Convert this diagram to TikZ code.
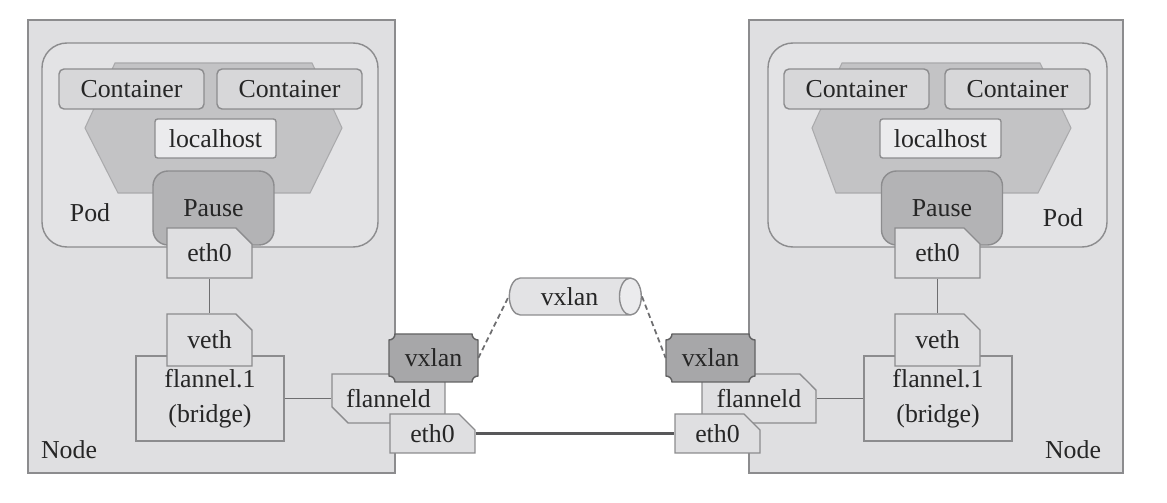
\documentclass[tikz,border=0pt]{standalone}
\usepackage{fontspec}
\setmainfont{Liberation Serif}
\usetikzlibrary{shapes.misc,shapes.geometric}

\definecolor{nodebg}{HTML}{DFDFE1}
\definecolor{podbg}{HTML}{E3E3E5}
\definecolor{hexfill}{HTML}{C3C3C5}
\definecolor{ctrfill}{HTML}{D7D7D9}
\definecolor{hostfill}{HTML}{EBEBED}
\definecolor{pausefill}{HTML}{B3B3B5}
\definecolor{vxfill}{HTML}{A7A7A9}
\definecolor{edge}{HTML}{8C8C8E}
\definecolor{wirecol}{HTML}{6E6E70}
\definecolor{ink}{HTML}{262626}

\begin{document}
\begin{tikzpicture}[
  x=0.02cm, y=-0.02cm,
  font=\fontsize{14.7pt}{17pt}\selectfont, text=ink,
  hostarea/.style={draw=edge, fill=nodebg, line width=0.8pt},
  podarea/.style={draw=edge, fill=podbg, line width=0.8pt, rounded corners=0.5cm},
  netns/.style={draw=edge!45!hexfill, fill=hexfill, line width=0.6pt},
  ctr/.style={draw=edge, fill=ctrfill, line width=0.8pt, rounded corners=0.1cm,
    minimum width=2.9cm, minimum height=0.8cm, inner sep=0pt},
  lhost/.style={draw=edge, fill=hostfill, line width=0.8pt, rounded corners=1.5pt,
    minimum width=2.42cm, minimum height=0.78cm, inner sep=0pt},
  pausebox/.style={draw=edge, fill=pausefill, line width=0.8pt, rounded corners=0.3cm,
    minimum width=2.42cm, minimum height=1.48cm, inner sep=0pt},
  iface/.style={chamfered rectangle, chamfered rectangle corners=north east,
    chamfered rectangle xsep=0.16cm, chamfered rectangle ysep=0.16cm,
    draw=edge, fill=nodebg, line width=0.8pt, minimum width=1.7cm, inner sep=0pt},
  bridge/.style={draw=edge, fill=nodebg, line width=0.8pt, align=center, inner sep=0pt,
    minimum width=2.96cm, minimum height=1.7cm, font=\fontsize{14.7pt}{20pt}\selectfont},
  notch/.style={draw=edge!70!black, fill=vxfill, line width=0.8pt},
  vxtext/.style={minimum width=1.78cm, minimum height=0.96cm, inner sep=0pt},
  tunnel/.style={cylinder, shape aspect=1.2, draw=edge, line width=0.8pt,
    cylinder uses custom fill, cylinder body fill=podbg, cylinder end fill=hostfill,
    minimum width=0.74cm, minimum height=2.64cm, inner sep=0pt},
  wire/.style={draw=wirecol, line width=1pt},
  underlay/.style={draw=wirecol!80!black, line width=1.8pt},
  tunnelwire/.style={draw=wirecol, line width=1pt, dash pattern=on 3pt off 2pt},
]
\useasboundingbox (0,0) rectangle (1167,503);

% ===== Left host =====
\path[hostarea] (28,20) rectangle (395,473);
\path[podarea] (42,43) rectangle (378,247);
\path[netns] (115,63) -- (312,63) -- (342,128) -- (310,193) -- (118,193) -- (85,128) -- cycle;
\node[ctr] (ctrL1) at (131.5,89) {Container};
\node[ctr] (ctrL2) at (289.5,89) {Container};
\node[lhost] (lhostL) at (215.5,138.5) {localhost};
\node[pausebox] (pauseL) at (213.5,208) {Pause};
\node (podL) at (90,213) {Pod};
\node[iface, minimum height=1cm] (ethpodL) at (209.5,253) {eth0};
\node[bridge] (bridgeL) at (210,398.5) {flannel.1\\(bridge)};
\node[iface, minimum height=1.04cm] (vethL) at (209.5,340) {veth};
\node (hostL) at (69,450) {Node};
\node[iface, chamfered rectangle corners=south west, minimum width=2.26cm,
      minimum height=0.98cm] (flanneldL) at (388.5,398.5) {flanneld};

% ===== Right host =====
\path[hostarea] (749,20) rectangle (1123,473);
\path[podarea] (768,43) rectangle (1107,247);
\path[netns] (842,63) -- (1040,63) -- (1071,128) -- (1038,193) -- (836,193) -- (812,128) -- cycle;
\node[ctr] (ctrR1) at (856.5,89) {Container};
\node[ctr] (ctrR2) at (1017.5,89) {Container};
\node[lhost] (lhostR) at (940.5,138.5) {localhost};
\node[pausebox] (pauseR) at (942,208) {Pause};
\node (podR) at (1063,218) {Pod};
\node[iface, minimum height=1cm] (ethpodR) at (937.5,253) {eth0};
\node[bridge] (bridgeR) at (938,398.5) {flannel.1\\(bridge)};
\node[iface, minimum height=1.04cm] (vethR) at (937.5,340) {veth};
\node (hostR) at (1073,450) {Node};
\node[iface, minimum width=2.28cm, minimum height=0.98cm] (flanneldR) at (759,398.5) {flanneld};

% vxlan devices, notched corners
\foreach \cx/\cy in {433.5/358, 710.5/358}
  \path[notch] ({\cx-38.5},{\cy-24}) -- ({\cx+38.5},{\cy-24})
    arc[start angle=180, end angle=270, radius=0.12cm] -- ({\cx+44.5},{\cy+18})
    arc[start angle=90, end angle=180, radius=0.12cm] -- ({\cx-38.5},{\cy+24})
    arc[start angle=0, end angle=90, radius=0.12cm] -- ({\cx-44.5},{\cy-18})
    arc[start angle=270, end angle=360, radius=0.12cm] -- cycle;
\node[vxtext] (vxlanL) at (433.5,358) {vxlan};
\node[vxtext] (vxlanR) at (710.5,358) {vxlan};

\node[iface, minimum height=0.78cm] (ethhostL) at (432.5,433.5) {eth0};
\node[iface, minimum height=0.78cm] (ethhostR) at (717.5,433.5) {eth0};

% overlay tunnel
\node[tunnel] (vxtunnel) at (569.5,296.5) {vxlan};

% links
\draw[wire] (ethpodL.south) -- (vethL.north);
\draw[wire] (ethpodR.south) -- (vethR.north);
\draw[wire] (bridgeL.east) -- (flanneldL.west);
\draw[wire] (bridgeR.west) -- (flanneldR.east);
\draw[underlay] (ethhostL.east) -- (ethhostR.west);
\draw[tunnelwire] (vxlanL.east) -- (vxtunnel.west);
\draw[tunnelwire] (vxtunnel.east) -- (vxlanR.west);

\end{tikzpicture}
\end{document}
